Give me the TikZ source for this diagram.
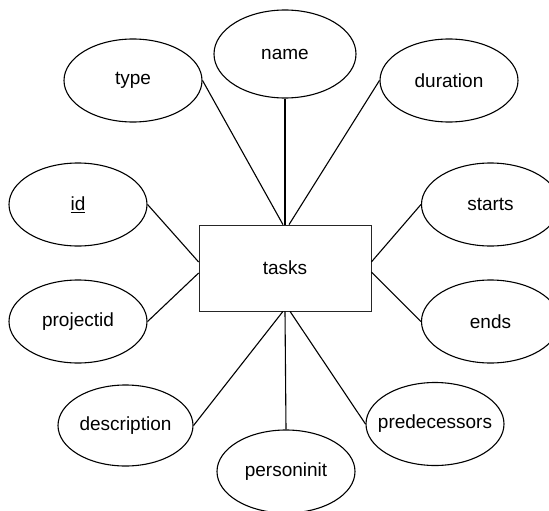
\documentclass[tikz,border=0pt]{standalone}
\usepackage{fontspec}
\setmainfont{Liberation Sans}
\usetikzlibrary{shapes.geometric}
\newcommand{\attrtext}[1]{\makebox[0pt]{#1}}
\begin{document}
\begin{tikzpicture}[x=1pt,y=1pt,
  attr/.style={draw=black,line width=1.1pt,ellipse,minimum width=138pt,minimum height=83pt,inner sep=0pt,font=\fontsize{19}{22}\selectfont},
  entbox/.style={draw=black!85,line width=0.7pt,rectangle,minimum width=172pt,minimum height=86pt,inner sep=0pt,font=\fontsize{19}{22}\selectfont},
  link/.style={draw=black,line width=1.1pt}]
\useasboundingbox (0,0) rectangle (549,-511);
\node[entbox] (tasks) at (285,-268) {tasks};
\node[attr,minimum width=142pt,minimum height=88pt] (name) at (285,-54) {\attrtext{name}};
\node[attr] (type) at (133,-80.5) {\attrtext{type}};
\node[attr] (duration) at (449,-80.5) {\attrtext{duration}};
\node[attr] (id) at (78,-204.5) {\attrtext{\underline{id}}};
\node[attr] (starts) at (490.5,-204.5) {\attrtext{starts}};
\node[attr] (projectid) at (78,-321.5) {\attrtext{projectid}};
\node[attr] (ends) at (490.5,-321.5) {\attrtext{ends}};
\node[attr,minimum width=135pt,minimum height=81pt] (description) at (125.5,-425.5) {\attrtext{description}};
\node[attr] (predecessors) at (435,-424) {\attrtext{predecessors}};
\node[attr] (personinit) at (286,-471.5) {\attrtext{personinit}};
\draw[link] (type.east) -- ([xshift=-2pt]tasks.north);
\draw[link] (name.south) -- (tasks.north);
\draw[link] (duration.west) -- ([xshift=4pt]tasks.north);
\draw[link] (id.east) -- ([yshift=6pt]tasks.west);
\draw[link] (projectid.east) -- ([yshift=-5pt]tasks.west);
\draw[link] (starts.west) -- ([yshift=6pt]tasks.east);
\draw[link] (ends.west) -- ([yshift=-4pt]tasks.east);
\draw[link] (description.east) -- ([xshift=-2pt]tasks.south);
\draw[link] (personinit.north) -- (tasks.south);
\draw[link] (predecessors.west) -- ([xshift=5pt]tasks.south);
\end{tikzpicture}
\end{document}
